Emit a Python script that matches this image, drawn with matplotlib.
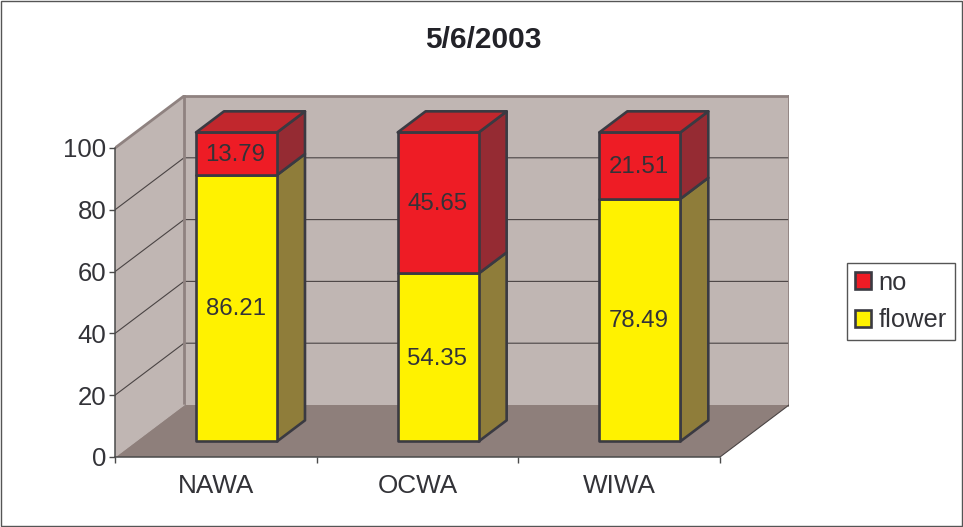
import matplotlib
matplotlib.use("Agg")
import matplotlib.pyplot as plt
from matplotlib.patches import Patch, Polygon, Rectangle

plt.rcParams["font.family"] = ["Liberation Sans", "DejaVu Sans"]

# ---- data ----
title = "5/6/2003"
categories = ["NAWA", "OCWA", "WIWA"]
flower = [86.21, 54.35, 78.49]
no = [13.79, 45.65, 21.51]
y_ticks = [0, 20, 40, 60, 80, 100]

# ---- style ----
W, H = 963, 527
TXT = "#333338"
EDGE = "#3a3a42"
WALL = "#c0b6b3"
FLOOR = "#8e7f7b"
WALL_EDGE = "#8f8280"
YEL, YEL_SIDE = "#fff200", "#8f7d3a"
RED, RED_SIDE, RED_TOP = "#ee1c25", "#952b33", "#c1272d"

fig = plt.figure(figsize=(W / 100, H / 100), dpi=100, facecolor="white")
fig.add_artist(Rectangle((0.5 / W, 1.5 / H), (W - 2) / W, (H - 2.5) / H,
                         transform=fig.transFigure, fill=False, ec="#555555", lw=1))

# axes: origin = front-left-bottom corner of the 3D box
L, B, R, T = 115, 457, 789, 95
ax = fig.add_axes([L / W, (H - B) / H, (R - L) / W, (B - T) / H])
px_x = 605 / 3       # pixels per category
px_y = 3.09          # pixels per value unit
ax.set_xlim(0, (R - L) / px_x)
ax.set_ylim(0, (B - T) / px_y)
ax.patch.set_visible(False)

DX = 69 / px_x       # depth shift of the box
DY = 52 / px_y


def proj(c, v, d):
    """Oblique projection: category, value, depth (0=front, 1=back)."""
    return (c + d * DX, v + d * DY)


def face(pts, **kw):
    ax.add_patch(Polygon([proj(*p) for p in pts], closed=True, **kw))


n = len(categories)
top = y_ticks[-1]

# walls and floor
face([(0, 0, 1), (n, 0, 1), (n, top, 1), (0, top, 1)], fc=WALL, ec="none", zorder=1)
face([(0, 0, 0), (0, 0, 1), (0, top, 1), (0, top, 0)], fc=WALL, ec="none", zorder=1)
face([(0, 0, 0), (n, 0, 0), (n, 0, 1), (0, 0, 1)], fc=FLOOR, ec="none", zorder=1.5)

# gridlines
for v in y_ticks[1:-1]:
    p = [proj(0, v, 0), proj(0, v, 1), proj(n, v, 1)]
    ax.plot(*zip(*p), color="#4a4444", lw=0.8, zorder=2)

# wall edges
for a, b in [((0, top, 0), (0, top, 1)), ((0, top, 1), (n, top, 1)),
             ((n, top, 1), (n, 0, 1)), ((0, top, 1), (0, 0, 1))]:
    p = [proj(*a), proj(*b)]
    ax.plot(*zip(*p), color=WALL_EDGE, lw=2, zorder=2.2, solid_capstyle="projecting")
p = [proj(n, 0, 0), proj(n, 0, 1)]
ax.plot(*zip(*p), color="#4a4444", lw=0.8, zorder=2.2)
p = [proj(0, 0, 0), proj(0, 0, 1)]
ax.plot(*zip(*p), color=WALL, lw=0.8, zorder=2.2)

# stacked 3D bars
BW = 81 / px_x
D0, D1 = 0.30, 0.705
kw = dict(ec=EDGE, lw=1.9, joinstyle="round", zorder=3)
for i, (f, r) in enumerate(zip(flower, no)):
    x0 = i + 0.5 - BW / 2
    x1 = x0 + BW
    for v0, v1, front, side in [(0, f, YEL, YEL_SIDE), (f, f + r, RED, RED_SIDE)]:
        face([(x1, v0, D0), (x1, v0, D1), (x1, v1, D1), (x1, v1, D0)], fc=side, **kw)
        face([(x0, v0, D0), (x1, v0, D0), (x1, v1, D0), (x0, v1, D0)], fc=front, **kw)
    h = f + r
    face([(x0, h, D0), (x1, h, D0), (x1, h, D1), (x0, h, D1)], fc=RED_TOP, **kw)
    for v0, val in [(0, f), (f, r)]:
        tx, ty = proj(i + 0.5, v0 + val / 2, D0)
        ax.annotate(f"{val:.2f}", (tx, ty), xytext=(-0.7, -0.8), textcoords="offset points",
                    ha="center", va="center", fontsize=17.3, color=TXT, zorder=4)

# axes, ticks and labels
for s in ("top", "right"):
    ax.spines[s].set_visible(False)
for s in ("left", "bottom"):
    ax.spines[s].set_color("#4a4a4a")
    ax.spines[s].set_linewidth(1.1)
    ax.spines[s].set_zorder(2.5)
ax.spines["left"].set_bounds(0, top)
ax.spines["bottom"].set_bounds(0, n)
ax.set_yticks(y_ticks)
ax.set_yticklabels([str(v) for v in y_ticks])
ax.set_xticks(range(n + 1))
ax.set_xticklabels([""] * (n + 1))
ax.set_xticks([i + 0.5 for i in range(n)], minor=True)
ax.set_xticklabels(categories, minor=True)
ax.tick_params(axis="both", which="major", length=4.3, width=1, color="#4a4a4a")
ax.tick_params(axis="y", labelsize=18.5, labelcolor=TXT, pad=1.8)
ax.tick_params(axis="x", which="minor", length=0, labelsize=18.8, labelcolor=TXT, pad=12)

fig.text(483 / W, 1 - 39.5 / H, title, ha="center", va="center",
         fontsize=21.5, fontweight="bold", color="#222228")

handles = [Patch(fc=RED, ec=EDGE, lw=1.9), Patch(fc=YEL, ec=EDGE, lw=1.9)]
leg = fig.legend(handles, ["no", "flower"], loc="upper left", mode="expand",
                 bbox_to_anchor=(847 / W, 1 - 340 / H, 108 / W, 77 / H), borderaxespad=0,
                 fontsize=18.4, labelcolor=TXT, fancybox=False, framealpha=1,
                 edgecolor="#555555", handlelength=0.62, handleheight=0.62,
                 handletextpad=0.3, labelspacing=0.54, borderpad=0.3)
leg.get_frame().set_linewidth(1)

fig.savefig("out.png", dpi=100, facecolor="white")
